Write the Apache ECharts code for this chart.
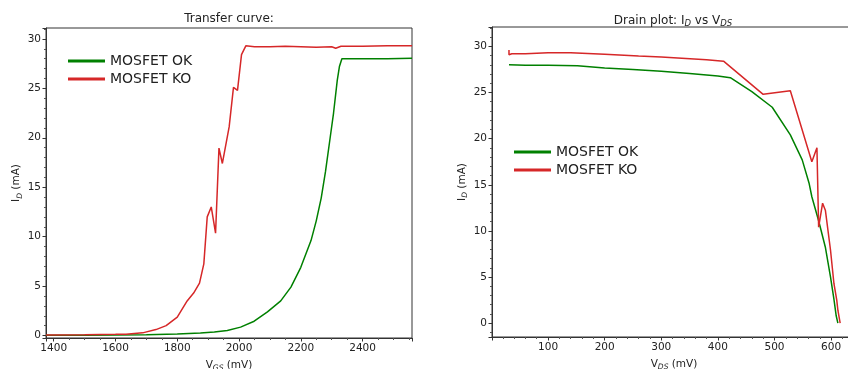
<!DOCTYPE html>
<html>
<head>
<meta charset="utf-8">
<script src="https://cdn.jsdelivr.net/npm/echarts@6/dist/echarts.min.js"></script>
<style>
  html, body { margin: 0; padding: 0; background: #fff; }
  #chart { width: 848px; height: 369px; }
</style>
</head>
<body>
<div id="chart"></div>
<script>
// Transfer curve (I_D vs V_GS)
const vgsOk = [1375, 1500, 1600, 1700, 1800, 1875, 1920, 1962, 2005, 2049, 2092, 2135, 2168, 2200, 2233, 2250, 2266, 2280, 2295, 2306, 2318, 2325, 2333, 2400, 2480, 2560];
const idOkTransfer = [0.03, 0.04, 0.05, 0.08, 0.15, 0.25, 0.35, 0.5, 0.85, 1.45, 2.4, 3.5, 4.9, 6.9, 9.6, 11.6, 13.9, 16.6, 20.0, 22.5, 25.8, 27.2, 28.0, 28.0, 28.0, 28.05];

const vgsKo = [1375, 1500, 1600, 1634, 1688, 1731, 1764, 1800, 1832, 1853, 1872, 1886, 1897, 1910, 1924, 1935, 1946, 1968, 1982, 1995, 2008, 2022, 2050, 2100, 2150, 2200, 2250, 2300, 2313, 2330, 2400, 2480, 2560];
const idKoTransfer = [0.05, 0.08, 0.12, 0.14, 0.27, 0.6, 1.0, 1.86, 3.5, 4.3, 5.3, 7.25, 12.0, 13.0, 10.35, 18.95, 17.4, 21.1, 25.1, 24.8, 28.4, 29.3, 29.2, 29.2, 29.25, 29.2, 29.15, 29.2, 29.05, 29.25, 29.25, 29.3, 29.3];

// Drain plot (I_D vs V_DS)
const vdsOk = [31, 60, 100, 152, 200, 250, 300, 350, 400, 422, 460, 496, 528, 549, 561, 566, 578, 590, 599, 605, 609, 612];
const idOkDrain = [28.0, 27.95, 27.95, 27.9, 27.65, 27.5, 27.3, 27.05, 26.8, 26.6, 25.1, 23.4, 20.4, 17.7, 15.2, 13.7, 11.1, 8.2, 5.0, 2.6, 0.8, 0];

const vdsKo = [31, 31, 36, 60, 100, 140, 200, 260, 300, 380, 410, 480, 528, 566, 575, 578, 585, 590, 599, 605, 610, 612, 616];
const idKoDrain = [29.6, 29.1, 29.2, 29.2, 29.3, 29.3, 29.15, 28.95, 28.85, 28.55, 28.4, 24.8, 25.2, 17.5, 19.0, 10.4, 13.0, 12.2, 7.9, 4.3, 2.5, 1.4, 0];

const seriesNames = ['MOSFET OK', 'MOSFET KO'];

const GREEN = '#008000';
const RED = '#d62728';
const FONT = 'DejaVu Sans';

const pairs = (xs, ys) => xs.map((x, i) => [x, ys[i]]);

const rich = {
  n: { fontSize: 10.5, fontFamily: FONT, fontWeight: 'normal', color: '#222', lineHeight: 14 },
  s: { fontSize: 7.5, fontFamily: FONT, fontWeight: 'normal', fontStyle: 'italic', color: '#222', lineHeight: 8, verticalAlign: 'bottom' },
  t: { fontSize: 12, fontFamily: FONT, fontWeight: 'normal', color: '#222', lineHeight: 15 },
  ts: { fontSize: 8.5, fontFamily: FONT, fontWeight: 'normal', fontStyle: 'italic', color: '#222', lineHeight: 9, verticalAlign: 'bottom' }
};

const axisCommon = {
  axisLine: { onZero: false, lineStyle: { color: '#333', width: 1 } },
  axisTick: { length: 3.5, lineStyle: { color: '#333' } },
  minorTick: { show: true, length: 2, lineStyle: { color: '#555' } },
  axisLabel: { fontFamily: FONT, fontSize: 10.5, color: '#222', margin: 5, showMinLabel: false, showMaxLabel: false,
    formatter: (v) => String(v) },
  splitLine: { show: false },
  nameLocation: 'middle',
  nameTextStyle: { rich }
};

const chart = echarts.init(document.getElementById('chart'));
chart.setOption({
  animation: false,
  backgroundColor: '#fff',
  title: [
    { text: 'Transfer curve:', left: 224, top: 8, textAlign: 'center',
      textStyle: { fontFamily: FONT, fontSize: 12, fontWeight: 'normal', color: '#222' } },
    { text: '{t|Drain plot: I}{ts|D}{t| vs V}{ts|DS}', left: 668, top: 8, textAlign: 'center',
      textStyle: { fontWeight: 'normal', rich } }
  ],
  legend: [
    { data: seriesNames, orient: 'vertical', left: 63, top: 49, itemWidth: 37, itemHeight: 3, itemGap: 4, icon: 'rect',
      textStyle: { fontFamily: FONT, fontSize: 14, color: '#222', lineHeight: 14 } },
    { data: seriesNames, orient: 'vertical', left: 509, top: 140, itemWidth: 37, itemHeight: 3, itemGap: 4, icon: 'rect',
      textStyle: { fontFamily: FONT, fontSize: 14, color: '#222', lineHeight: 14 } }
  ],
  grid: [
    { left: 46, top: 28, width: 366, height: 310, show: true, borderColor: '#333', borderWidth: 1,
      containLabel: false, outerBoundsMode: 'none' },
    { left: 492, top: 27, width: 364, height: 310, show: true, borderColor: '#333', borderWidth: 1,
      containLabel: false, outerBoundsMode: 'none' }
  ],
  xAxis: [
    Object.assign({}, axisCommon, { type: 'value', gridIndex: 0, min: 1375, max: 2560,
      minorTick: Object.assign({}, axisCommon.minorTick, { splitNumber: 4 }),
      name: '{n|V}{s|GS}{n| (mV)}', nameGap: 20 }),
    Object.assign({}, axisCommon, { type: 'value', gridIndex: 1, min: 1, max: 644,
      minorTick: Object.assign({}, axisCommon.minorTick, { splitNumber: 5 }),
      name: '{n|V}{s|DS}{n| (mV)}', nameGap: 20 })
  ],
  yAxis: [
    Object.assign({}, axisCommon, { type: 'value', gridIndex: 0, min: -0.25, max: 31.1,
      minorTick: Object.assign({}, axisCommon.minorTick, { splitNumber: 5 }),
      name: '{n|I}{s|D}{n| (mA)}', nameGap: 22 }),
    Object.assign({}, axisCommon, { type: 'value', gridIndex: 1, min: -1.5, max: 32.1,
      minorTick: Object.assign({}, axisCommon.minorTick, { splitNumber: 5 }),
      name: '{n|I}{s|D}{n| (mA)}', nameGap: 23 })
  ],
  series: [
    { name: 'MOSFET OK', type: 'line', xAxisIndex: 0, yAxisIndex: 0, data: pairs(vgsOk, idOkTransfer),
      showSymbol: false, lineStyle: { color: GREEN, width: 1.5 }, itemStyle: { color: GREEN } },
    { name: 'MOSFET KO', type: 'line', xAxisIndex: 0, yAxisIndex: 0, data: pairs(vgsKo, idKoTransfer),
      showSymbol: false, lineStyle: { color: RED, width: 1.5 }, itemStyle: { color: RED } },
    { name: 'MOSFET OK', type: 'line', xAxisIndex: 1, yAxisIndex: 1, data: pairs(vdsOk, idOkDrain),
      showSymbol: false, lineStyle: { color: GREEN, width: 1.5 }, itemStyle: { color: GREEN } },
    { name: 'MOSFET KO', type: 'line', xAxisIndex: 1, yAxisIndex: 1, data: pairs(vdsKo, idKoDrain),
      showSymbol: false, lineStyle: { color: RED, width: 1.5 }, itemStyle: { color: RED } }
  ]
});
window.addEventListener('resize', () => chart.resize());
</script>
</body>
</html>
